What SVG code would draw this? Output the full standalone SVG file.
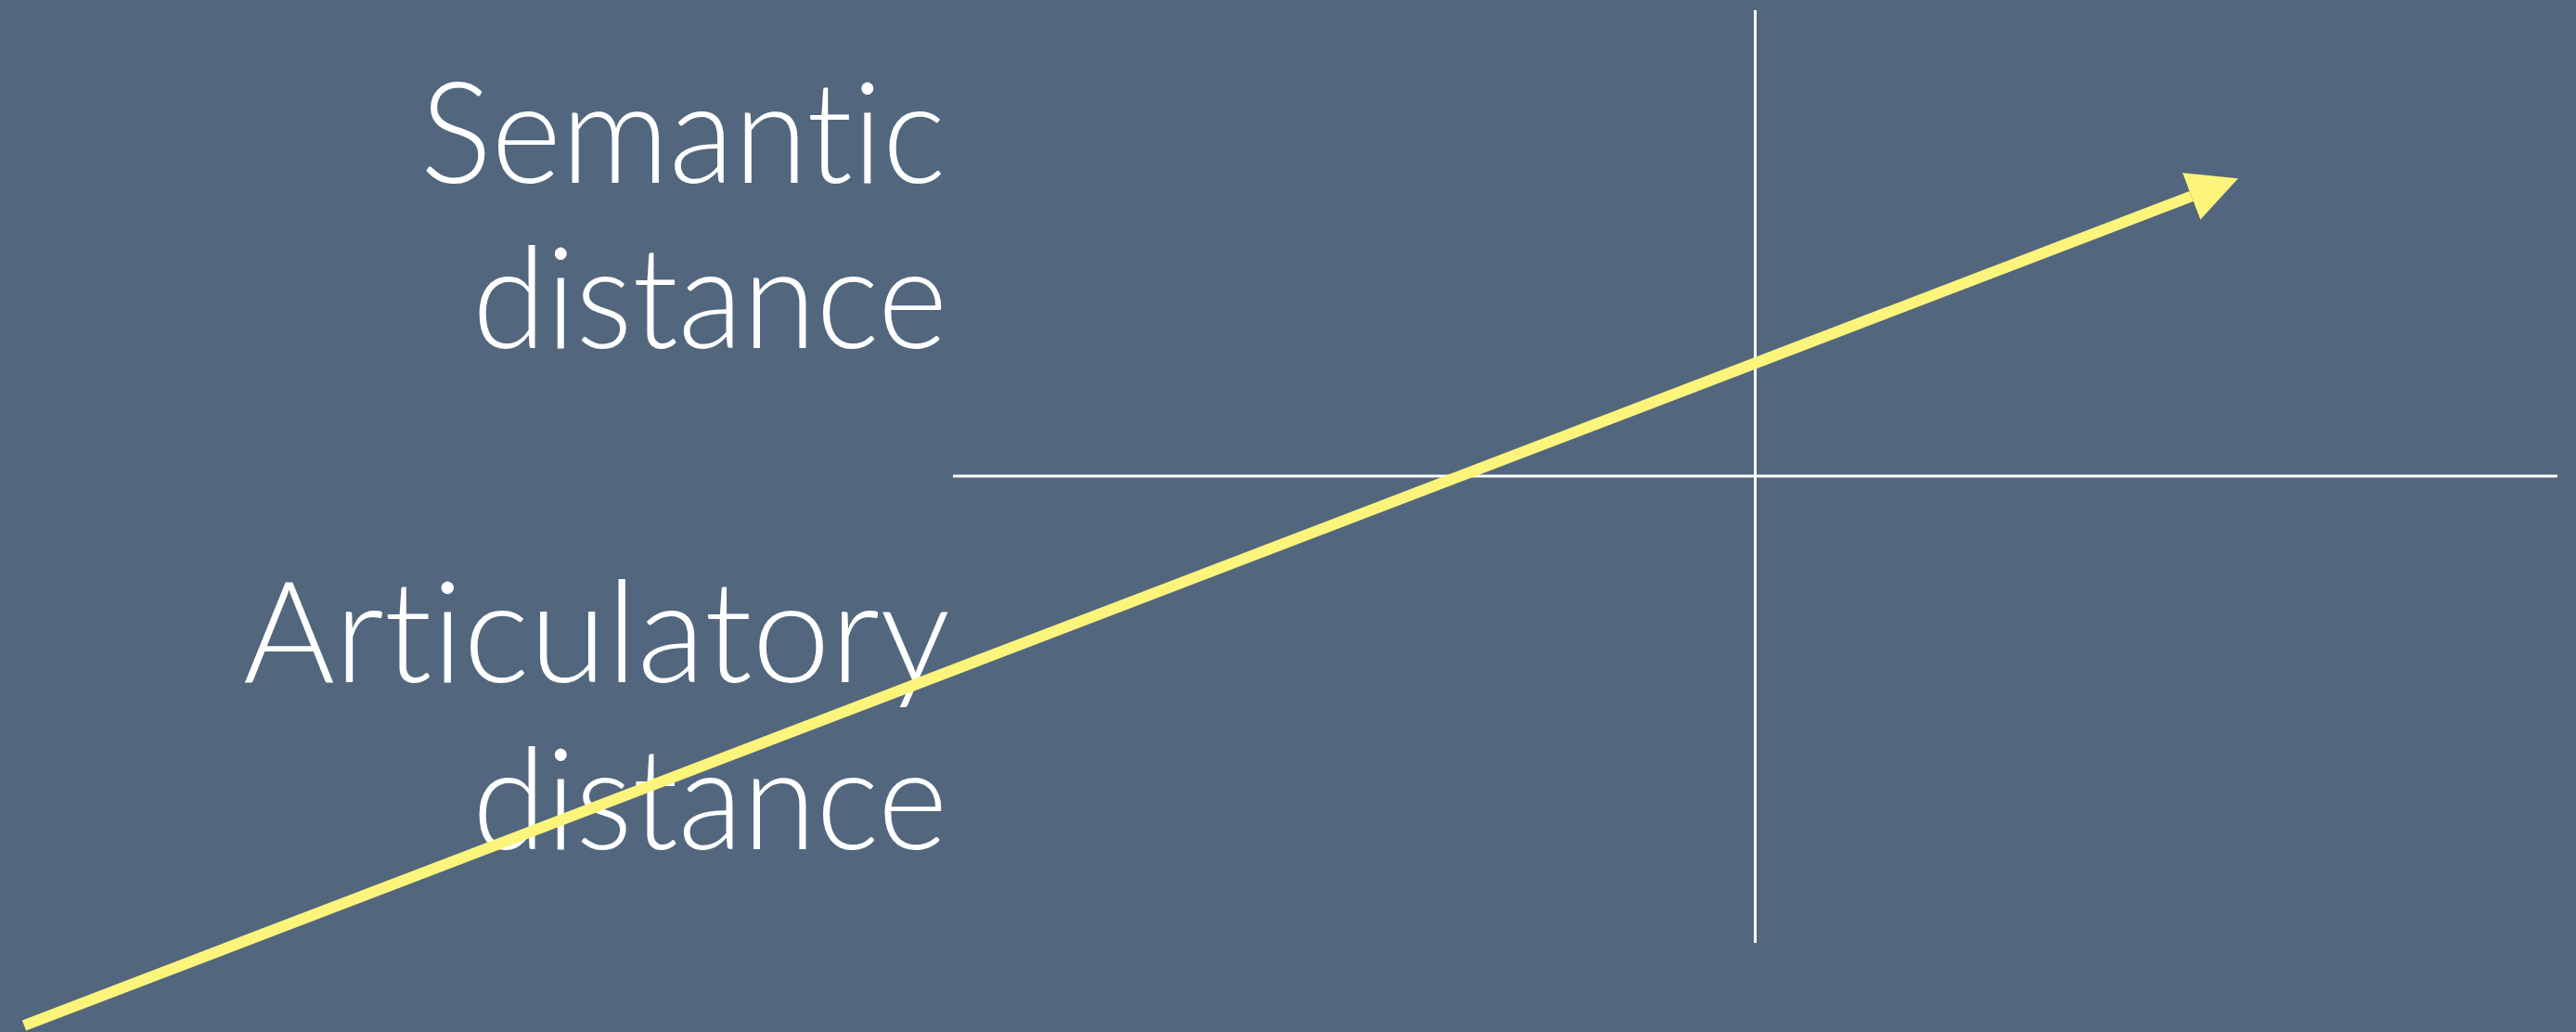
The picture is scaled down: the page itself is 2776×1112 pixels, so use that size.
<svg xmlns="http://www.w3.org/2000/svg" width="2776" height="1112" viewBox="0 0 2776 1112">
<style>
.lbl{font-family:Lato,"Open Sans","Liberation Sans",sans-serif;font-weight:300;font-size:153px;fill:#ffffff;text-anchor:end;font-variant-ligatures:none;font-feature-settings:"liga" 0,"clig" 0}
.axis{stroke:#ffffff;stroke-width:3;fill:none}
.arrow{stroke:#fdf47b;stroke-width:12;fill:none}
</style>
<defs>
<marker id="head" markerUnits="userSpaceOnUse" markerWidth="60" markerHeight="60" viewBox="0 -30 60 60" refX="0" refY="0" orient="auto">
<path d="M0,-27 L54,0 L0,27 Z" fill="#fdf47b"/>
</marker>
</defs>
<rect width="2776" height="1112" fill="#52677e"/>
<g id="axes">
<line class="axis" x1="1891.5" y1="11" x2="1891.5" y2="1016"/>
<line class="axis" x1="1027" y1="513" x2="2756" y2="513"/>
</g>
<g id="semantic">
<text class="lbl" x="1019" y="197" textLength="566" lengthAdjust="spacingAndGlyphs">Semantic</text>
<text class="lbl" x="1021" y="375" textLength="512" lengthAdjust="spacingAndGlyphs">distance</text>
</g>
<g id="articulatory">
<text class="lbl" x="1024" y="735" textLength="762" lengthAdjust="spacingAndGlyphs">Articulatory</text>
<text class="lbl" x="1021" y="915" textLength="512" lengthAdjust="spacingAndGlyphs">distance</text>
</g>
<g id="connectors">
<line class="arrow" x1="26" y1="1105" x2="2361.5" y2="211.5" marker-end="url(#head)"/>
</g>
</svg>
